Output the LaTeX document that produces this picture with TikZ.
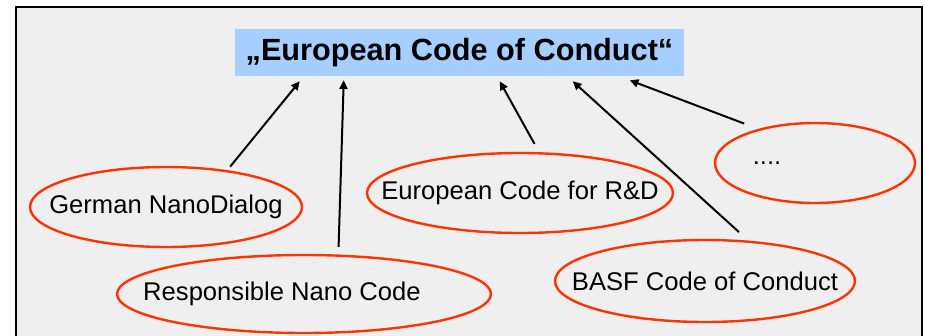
\documentclass[tikz,border=0pt]{standalone}
\usepackage{fontspec}
\setmainfont{Liberation Sans}
\usetikzlibrary{shapes.geometric,arrows.meta,positioning,calc}
\definecolor{panelgray}{RGB}{239,239,239}
\definecolor{titleblue}{RGB}{166,207,255}
\definecolor{ovalred}{RGB}{255,51,0}
\newcommand{\ovaltext}[1]{\makebox[0pt]{#1}}

\begin{document}
\begin{tikzpicture}[
			x=0.75pt,y=-0.75pt,
			>={Triangle[length=6.5pt,width=6pt]},
			title/.style={
				rectangle,
				fill=titleblue,
				inner sep=0pt,
				minimum width=336.75pt,
				minimum height=35.25pt,
				font=\fontsize{23}{27}\selectfont\bfseries
			},
			oval/.style={
				ellipse,
				draw=ovalred,
				line width=1.8pt,
				inner sep=0pt,
				font=\fontsize{19.2}{23}\selectfont
			},
			link/.style={->,line width=1.5pt}
			]
			
			\useasboundingbox (0,0) rectangle (926,336);
			\fill[panelgray] (16,7) rectangle (922,336);
			\draw[line width=1.5pt] (16,336) -- (16,7) -- (922,7) -- (922,336);
			
			\node[title] (eucc) at (459.5,52.5) {„European Code of Conduct“};
			
			\node[oval,minimum width=204pt,minimum height=60pt] (gnd) at (166,207)
			{\ovaltext{German NanoDialog}};
			
			\node[oval,minimum width=280.5pt,minimum height=58.5pt] (rnc) at (304,294)
			{\ovaltext{Responsible Nano Code\hspace{33pt}}};
			
			\node[oval,minimum width=229.5pt,minimum height=60pt] (rnd) at (520,193)
			{\ovaltext{European Code for R\&D}};
			
			\node[oval,minimum width=150pt,minimum height=60pt] (more) at (815,163)
			{\ovaltext{....\hspace{72pt}}};
			
			\node[oval,minimum width=225pt,minimum height=61.5pt] (basf) at (705,281)
			{\ovaltext{BASF Code of Conduct}};
			
			% arrow tips under the title
			\coordinate (t1) at ($(eucc.south west)+(65,5)$);
			\coordinate (t2) at ($(eucc.south west)+(109,4)$);
			\coordinate (t3) at ($(eucc.south west)+(265,5)$);
			\coordinate (t4) at ($(eucc.south west)+(338,5)$);
			\coordinate (t5) at ($(eucc.south west)+(395,4)$);
			
			\draw[link,shorten <=3.4pt] (gnd.31) -- (t1);
			\draw[link,shorten <=5.7pt] (rnc.49) -- (t2);
			\draw[link,shorten <=7pt] (rnd.65) -- (t3);
			\draw[link,shorten <=9.5pt] (basf.43) -- (t4);
			\draw[link,shorten <=11.3pt] (more.149) -- (t5);
			
		\end{tikzpicture}
\end{document}
